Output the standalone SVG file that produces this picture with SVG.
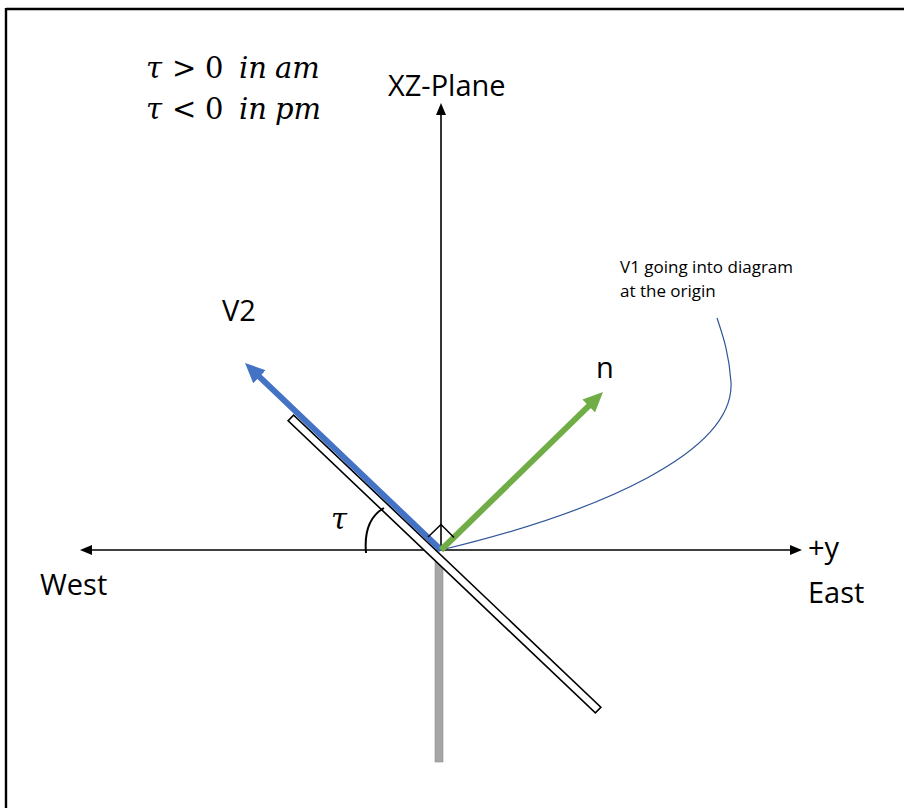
<svg xmlns="http://www.w3.org/2000/svg" width="904" height="808" viewBox="0 0 904 808">
<style>
  .lbl { font-family: "Open Sans", "Liberation Sans", Arial, sans-serif; font-size: 29px; fill: #000; }
  .small { font-family: "Open Sans", "Liberation Sans", Arial, sans-serif; font-size: 17px; fill: #000; }
  .math { font-family: "DejaVu Serif", "Liberation Serif", serif; font-size: 29px; fill: #000; }
  .it { font-style: italic; }
  .axis { stroke: #000; stroke-width: 1.6; fill: none; }
</style>
<defs>
  <marker id="axhead" viewBox="0 0 12 10" refX="9" refY="5" markerWidth="12" markerHeight="10" markerUnits="userSpaceOnUse" orient="auto-start-reverse">
    <path d="M0,0 L12,5 L0,10 z" fill="#000"/>
  </marker>
  <marker id="bluehead" viewBox="0 0 20 18" refX="12" refY="9" markerWidth="20" markerHeight="18" markerUnits="userSpaceOnUse" orient="auto">
    <path d="M0,0 L20,9 L0,18 z" fill="#4472c4"/>
  </marker>
  <marker id="greenhead" viewBox="0 0 20 18" refX="12" refY="9" markerWidth="20" markerHeight="18" markerUnits="userSpaceOnUse" orient="auto">
    <path d="M0,0 L20,9 L0,18 z" fill="#70ad47"/>
  </marker>
</defs>
<rect x="0" y="0" width="904" height="808" fill="#fff"/>
<g id="frame">
  <line x1="6" y1="9" x2="904" y2="9" stroke="#000" stroke-width="2.4"/>
  <line x1="6" y1="8" x2="6" y2="808" stroke="#000" stroke-width="2.4"/>
</g>
<g id="connectors">
  <line id="y-axis" class="axis" x1="83" y1="550" x2="799" y2="550" marker-start="url(#axhead)" marker-end="url(#axhead)"/>
  <line id="z-axis" class="axis" x1="441" y1="550" x2="441" y2="106" marker-end="url(#axhead)"/>
  <path id="v1-leader" d="M441,550 C600,512 735,452 731,382 C729,352 722,333 717,318" fill="none" stroke="#2f5597" stroke-width="1.2"/>
</g>
<g id="post">
  <rect x="435" y="557" width="8" height="205" fill="#a6a6a6" stroke="#8f8f8f" stroke-width="0.6"/>
</g>
<g id="panel">
  <rect x="-212" y="-4" width="424" height="8" transform="translate(444.5,564) rotate(43.56)" fill="#fff" stroke="#000" stroke-width="1.6"/>
</g>
<g id="v2">
  <line x1="441" y1="550" x2="250.8" y2="368.5" stroke="#4472c4" stroke-width="6" marker-end="url(#bluehead)"/>
  <text class="lbl" x="222" y="321">V2</text>
</g>
<g id="n">
  <line x1="441" y1="550" x2="597.3" y2="397.6" stroke="#70ad47" stroke-width="6" marker-end="url(#greenhead)"/>
  <text class="lbl" x="596" y="378">n</text>
</g>
<g id="right-angle">
  <path d="M428,537 L441,524.5 L454,537.5" fill="none" stroke="#000" stroke-width="1.5"/>
</g>
<g id="tau-angle">
  <path d="M366,553 C364,530 370,516 384,508" fill="none" stroke="#000" stroke-width="2"/>
  <text class="math it" x="331" y="529">τ</text>
</g>
<g id="labels">
  <text class="lbl" x="388" y="96">XZ-Plane</text>
  <text class="lbl" x="40" y="595">West</text>
  <text class="lbl" x="808" y="558">+y</text>
  <text class="lbl" x="808" y="603">East</text>
  <text class="small" x="620" y="273">V1 going into diagram</text>
  <text class="small" x="620" y="297">at the origin</text>
</g>
<g id="legend">
  <text class="math" y="78"><tspan class="it" x="146">τ</tspan><tspan x="172">&gt;</tspan><tspan x="205">0</tspan><tspan class="it" x="239">in</tspan><tspan class="it" x="275">am</tspan></text>
  <text class="math" y="119"><tspan class="it" x="146">τ</tspan><tspan x="172">&lt;</tspan><tspan x="205">0</tspan><tspan class="it" x="239">in</tspan><tspan class="it" x="275">pm</tspan></text>
</g>
</svg>
